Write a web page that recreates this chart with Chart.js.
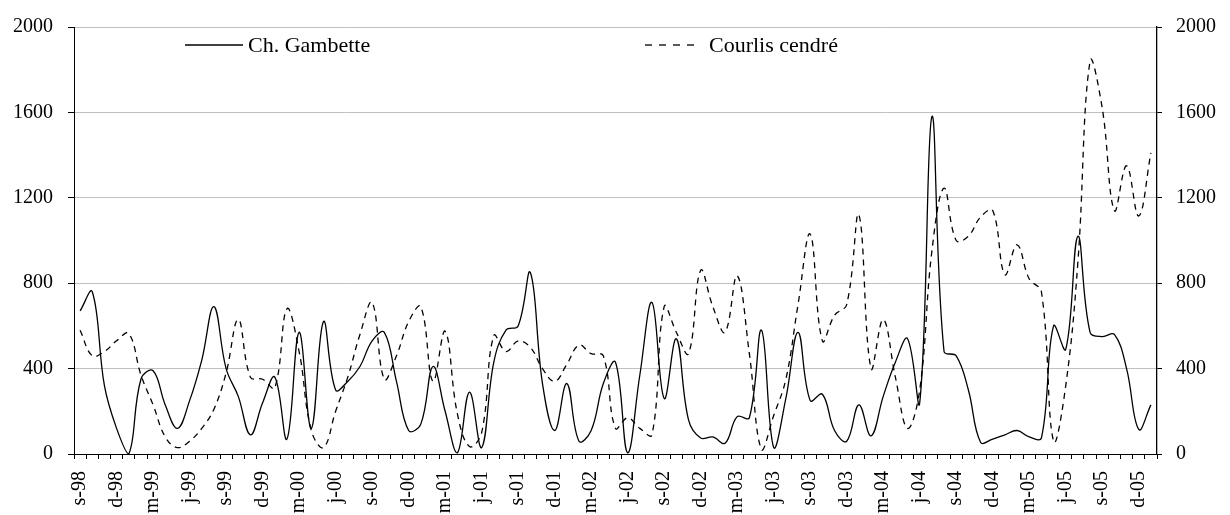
<!DOCTYPE html>
<html>
<head>
<meta charset="utf-8">
<script src="https://cdn.jsdelivr.net/npm/chart.js@4.4.1/dist/chart.umd.min.js"></script>
<style>
  html, body { margin: 0; padding: 0; background: #fff; }
  #wrap { width: 1230px; height: 515px; position: relative; }
</style>
</head>
<body>
<div id="wrap"><canvas id="chart"></canvas></div>
<script>
// monthly counts, sept 1998 -> jan 2006
const months = [
  's-98', 'o-98', 'n-98', 'd-98',
  'j-99', 'f-99', 'm-99', 'a-99', 'm-99', 'j-99', 'j-99', 'a-99', 's-99', 'o-99', 'n-99', 'd-99',
  'j-00', 'f-00', 'm-00', 'a-00', 'm-00', 'j-00', 'j-00', 'a-00', 's-00', 'o-00', 'n-00', 'd-00',
  'j-01', 'f-01', 'm-01', 'a-01', 'm-01', 'j-01', 'j-01', 'a-01', 's-01', 'o-01', 'n-01', 'd-01',
  'j-02', 'f-02', 'm-02', 'a-02', 'm-02', 'j-02', 'j-02', 'a-02', 's-02', 'o-02', 'n-02', 'd-02',
  'j-03', 'f-03', 'm-03', 'a-03', 'm-03', 'j-03', 'j-03', 'a-03', 's-03', 'o-03', 'n-03', 'd-03',
  'j-04', 'f-04', 'm-04', 'a-04', 'm-04', 'j-04', 'j-04', 'a-04', 's-04', 'o-04', 'n-04', 'd-04',
  'j-05', 'f-05', 'm-05', 'a-05', 'm-05', 'j-05', 'j-05', 'a-05', 's-05', 'o-05', 'n-05', 'd-05',
  'j-06'
];

const gambette = [
  670, 760, 320, 120,
  0, 350, 390, 230, 120, 250, 440, 690, 400, 270, 90, 240,
  360, 70, 570, 120, 620, 300, 340, 410, 530, 570, 340, 110,
  140, 410, 200, 5, 290, 30, 430, 580, 600, 850, 330, 110,
  330, 60, 110, 330, 430, 5, 370, 710, 260, 540, 160, 75,
  80, 50, 175, 170, 580, 30, 260, 570, 250, 280, 110, 60,
  230, 85, 270, 430, 540, 240, 1580, 480, 460, 300, 55, 70,
  90, 110, 80, 75, 600, 490, 1020, 570, 550, 560, 400, 115,
  230
];

const courlis = [
  580, 460, 480, 530,
  565, 370, 230, 80, 30, 60, 120, 210, 380, 630, 360, 350,
  310, 680, 480, 110, 30, 200, 360, 560, 710, 350, 460, 620,
  690, 340, 575, 190, 35, 100, 555, 480, 530, 500, 400, 340,
  420, 510, 470, 460, 120, 170, 120, 90, 690, 570, 470, 860,
  690, 570, 835, 470, 20, 180, 350, 700, 1030, 530, 650, 700,
  1120, 400, 630, 360, 120, 300, 950, 1245, 1000, 1020, 1110, 1140,
  840, 980, 820, 760, 60, 320, 900, 1840, 1620, 1140, 1350, 1115,
  1410
];

const yTicks = [0, 400, 800, 1200, 1600, 2000];

const serif = "'Liberation Serif', 'Times New Roman', serif";
Chart.defaults.font.family = serif;
Chart.defaults.font.size = 20;
Chart.defaults.color = '#000';

// legend drawn inside the plot, at the spots used in the original
const insideLegend = {
  id: 'insideLegend',
  afterDraw(chart, args, opts) {
    const ctx = chart.ctx;
    ctx.save();
    ctx.font = opts.fontSize + 'px ' + serif;
    ctx.fillStyle = '#000';
    ctx.textBaseline = 'middle';
    chart.data.datasets.forEach((ds, i) => {
      const it = opts.items[i];
      ctx.strokeStyle = ds.borderColor;
      ctx.lineWidth = ds.borderWidth;
      ctx.setLineDash(it.dash);
      ctx.beginPath();
      ctx.moveTo(it.x0, opts.y);
      ctx.lineTo(it.x1, opts.y);
      ctx.stroke();
      ctx.setLineDash([]);
      ctx.fillText(ds.label, it.tx, opts.y + 1);
    });
    ctx.restore();
  }
};

const setTicks = scale => { scale.ticks = yTicks.map(v => ({ value: v })); };
const plainNumber = v => String(v);

new Chart(document.getElementById('chart'), {
  type: 'line',
  data: {
    labels: months,
    datasets: [
      {
        label: 'Ch. Gambette',
        data: gambette,
        borderColor: '#000',
        borderWidth: 1.3,
        pointRadius: 0,
        tension: 0.4,
        fill: false,
        yAxisID: 'y'
      },
      {
        label: 'Courlis cendré',
        data: courlis,
        borderColor: '#000',
        borderWidth: 1.3,
        borderDash: [6, 5],
        pointRadius: 0,
        tension: 0.4,
        fill: false,
        yAxisID: 'y2'
      }
    ]
  },
  options: {
    responsive: true,
    maintainAspectRatio: false,
    animation: false,
    layout: { padding: { top: 19, left: 0, right: 0, bottom: 0 } },
    plugins: {
      legend: { display: false },
      tooltip: { enabled: false },
      insideLegend: {
        y: 45,
        fontSize: 22,
        items: [
          { x0: 185, x1: 243, tx: 248, dash: [] },
          { x0: 645, x1: 701, tx: 709, dash: [7, 7] }
        ]
      }
    },
    scales: {
      x: {
        type: 'category',
        offset: true,
        grid: {
          offset: true,
          drawOnChartArea: false,
          tickLength: 5,
          color: '#000'
        },
        border: { color: '#000' },
        ticks: {
          autoSkip: false,
          minRotation: 90,
          maxRotation: 90,
          padding: 12,
          callback: (val, i) => (i % 3 === 0 ? months[i] : '')
        },
        afterFit: s => { s.height = 61; }
      },
      y: {
        position: 'left',
        min: 0,
        max: 2000,
        afterBuildTicks: setTicks,
        grid: { color: '#c0c0c0', tickColor: '#000', tickLength: 6 },
        border: { color: '#000' },
        ticks: { padding: 15, callback: plainNumber },
        afterFit: s => { s.width = 74; }
      },
      y2: {
        position: 'right',
        min: 0,
        max: 2000,
        afterBuildTicks: setTicks,
        grid: { drawOnChartArea: false, tickColor: '#000', tickLength: 5 },
        border: { color: '#000', width: 1.3, dash: [5, 4] },
        ticks: { padding: 14, callback: plainNumber },
        afterFit: s => { s.width = 73; }
      }
    }
  },
  plugins: [insideLegend]
});
</script>
</body>
</html>
